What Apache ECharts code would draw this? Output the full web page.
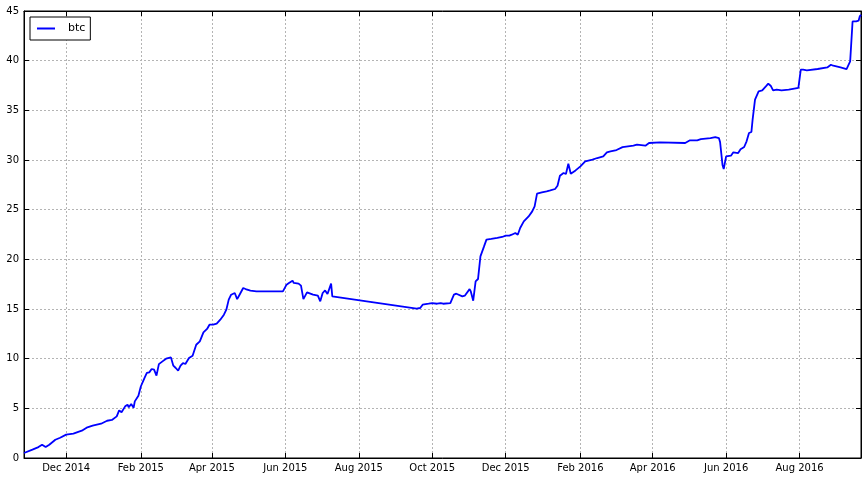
<!DOCTYPE html>
<html><head><meta charset="utf-8">
<script src="https://cdn.jsdelivr.net/npm/echarts@6/dist/echarts.min.js"></script>
<style>html,body{margin:0;padding:0;background:#fff}#c{width:868px;height:479px}</style>
</head><body><div id="c"></div>
<script>
const seriesName = 'btc';
const dates = [
'2014-10-27','2014-11-03','2014-11-08','2014-11-11','2014-11-14','2014-11-17','2014-11-22','2014-11-26',
'2014-12-01','2014-12-07','2014-12-14','2014-12-18','2014-12-23','2014-12-30','2015-01-04','2015-01-08',
'2015-01-12','2015-01-14','2015-01-16','2015-01-19','2015-01-21','2015-01-22','2015-01-24','2015-01-26',
'2015-01-27','2015-01-30','2015-02-01','2015-02-02','2015-02-04','2015-02-06','2015-02-08','2015-02-10',
'2015-02-12','2015-02-14','2015-02-16','2015-02-19','2015-02-22','2015-02-26','2015-02-28','2015-03-02',
'2015-03-04','2015-03-06','2015-03-08','2015-03-10','2015-03-13','2015-03-16','2015-03-19','2015-03-22',
'2015-03-25','2015-03-28','2015-03-30','2015-04-02','2015-04-05','2015-04-08','2015-04-11','2015-04-13',
'2015-04-15','2015-04-17','2015-04-20','2015-04-22','2015-04-24','2015-04-27','2015-04-29','2015-05-03',
'2015-05-08','2015-05-30','2015-06-02','2015-06-04','2015-06-07','2015-06-08','2015-06-12','2015-06-14',
'2015-06-16','2015-06-19','2015-06-24','2015-06-28','2015-06-30','2015-07-02','2015-07-04','2015-07-06',
'2015-07-09','2015-07-10','2015-09-18','2015-09-21','2015-09-23','2015-09-28','2015-10-01','2015-10-05',
'2015-10-08','2015-10-10','2015-10-16','2015-10-19','2015-10-21','2015-10-26','2015-10-28','2015-11-01',
'2015-11-02','2015-11-04','2015-11-06','2015-11-08','2015-11-10','2015-11-13','2015-11-15','2015-11-19',
'2015-11-24','2015-11-28','2015-12-01','2015-12-04','2015-12-06','2015-12-09','2015-12-11','2015-12-13',
'2015-12-16','2015-12-20','2015-12-23','2015-12-25','2015-12-27','2015-12-31','2016-01-04','2016-01-07',
'2016-01-11','2016-01-13','2016-01-15','2016-01-18','2016-01-20','2016-01-22','2016-01-24','2016-01-28',
'2016-02-01','2016-02-05','2016-02-11','2016-02-15','2016-02-20','2016-02-23','2016-02-26','2016-03-02',
'2016-03-07','2016-03-16','2016-03-19','2016-03-26','2016-03-29','2016-04-07','2016-04-28','2016-05-02',
'2016-05-08','2016-05-11','2016-05-19','2016-05-23','2016-05-26','2016-05-27','2016-05-29','2016-05-30',
'2016-06-01','2016-06-05','2016-06-07','2016-06-11','2016-06-13','2016-06-16','2016-06-18','2016-06-20',
'2016-06-22','2016-06-23','2016-06-25','2016-06-28','2016-07-01','2016-07-04','2016-07-06','2016-07-08',
'2016-07-10','2016-07-13','2016-07-17','2016-07-23','2016-07-31','2016-08-02','2016-08-04','2016-08-07',
'2016-08-16','2016-08-24','2016-08-27','2016-08-29','2016-09-04','2016-09-09','2016-09-12','2016-09-14',
'2016-09-17','2016-09-19','2016-09-20','2016-09-21'
];
const values = [
0.5,0.84,1.1,1.34,1.1,1.34,1.84,2.04,
2.35,2.45,2.75,3.05,3.25,3.45,3.75,3.83,
4.19,4.8,4.6,5.2,5.37,5.1,5.44,5.06,
5.7,6.27,7.2,7.28,8.05,8.56,8.62,8.96,
8.89,8.29,9.45,9.73,10.0,10.13,9.29,9.06,
8.79,9.29,9.56,9.46,10.07,10.3,11.4,11.74,
12.65,12.99,13.42,13.42,13.52,13.92,14.43,14.93,
15.94,16.44,16.61,16.0,16.44,17.11,17.01,16.84,
16.77,16.77,17.45,17.62,17.85,17.62,17.55,17.35,
16.0,16.67,16.44,16.34,15.77,16.61,16.87,16.51,
17.55,16.27,15.03,15.1,15.43,15.53,15.6,15.53,
15.6,15.53,15.6,16.44,16.54,16.27,16.34,17.0,
16.77,15.84,17.78,18.02,20.3,21.3,21.98,22.05,
22.15,22.25,22.38,22.38,22.48,22.65,22.48,23.15,
23.82,24.32,24.83,25.33,26.61,26.74,26.84,26.94,
27.08,27.41,28.42,28.69,28.59,29.63,28.62,28.95,
29.36,29.86,30.03,30.2,30.36,30.77,30.87,31.0,
31.3,31.44,31.54,31.44,31.71,31.77,31.71,31.98,
31.98,32.1,32.21,32.31,32.21,31.8,29.5,29.09,
30.36,30.43,30.77,30.7,31.08,31.31,31.88,32.72,
32.82,34.06,36.07,36.91,37.01,37.41,37.68,37.48,
37.01,37.08,37.01,37.08,37.25,39.09,39.09,39.02,
39.16,39.32,39.59,39.49,39.32,39.16,39.93,43.95,
43.95,44.02,44.46,44.63
];
const xTickDates = ['2014-12-01','2015-02-01','2015-04-01','2015-06-01','2015-08-01','2015-10-01','2015-12-01','2016-02-01','2016-04-01','2016-06-01','2016-08-01'];
const xTickLabels = ['Dec 2014','Feb 2015','Apr 2015','Jun 2015','Aug 2015','Oct 2015','Dec 2015','Feb 2016','Apr 2016','Jun 2016','Aug 2016'];
const yMin = 0, yMax = 45, yStep = 5;

function ts(s){const p=s.split('-').map(Number);return Date.UTC(p[0],p[1]-1,p[2]);}
const tickTs = xTickDates.map(ts);
const xMin = ts(dates[0]), xMax = ts(dates[dates.length-1]);
const FONT = 'DejaVu Sans';
const LINE_COLOR = '#0000ff';
const gridLine = {show:true, lineStyle:{color:'#b4b4b4', width:1, type:[2,2]}};

const chart = echarts.init(document.getElementById('c'), null, {renderer:'canvas'});
chart.setOption({
  backgroundColor:'#fff',
  animation:false,
  grid:{left:24, right:7, top:11, bottom:21, show:true, borderColor:'#000', borderWidth:1, backgroundColor:'#fff'},
  legend:{
    left:30, top:17, orient:'vertical',
    data:[{name:seriesName, icon:'rect', itemStyle:{color:LINE_COLOR}}],
    backgroundColor:'#fff', borderColor:'#000', borderWidth:1, borderRadius:0,
    padding:[4,5,4,7], itemWidth:18, itemHeight:2,
    textStyle:{fontFamily:FONT, fontSize:11, color:'#000', padding:[0,0,0,8], lineHeight:15}
  },
  xAxis:[{
    type:'value', min:xMin, max:xMax, position:'bottom',
    axisLine:{show:true, onZero:false, lineStyle:{color:'#000'}},
    axisTick:{show:true, inside:true, length:5, customValues:tickTs, lineStyle:{color:'#000'}},
    axisLabel:{show:true, customValues:tickTs, margin:5, color:'#000', fontFamily:FONT, fontSize:10,
      formatter:function(v){const i=tickTs.indexOf(v);return i>=0?xTickLabels[i]:'';}},
    splitLine:gridLine
  },{
    type:'value', min:xMin, max:xMax, position:'top',
    axisLine:{show:true, onZero:false, lineStyle:{color:'#000'}},
    axisTick:{show:true, inside:true, length:5, customValues:tickTs, lineStyle:{color:'#000'}},
    axisLabel:{show:false, customValues:tickTs},
    splitLine:{show:false}
  }],
  yAxis:[{
    type:'value', min:yMin, max:yMax, interval:yStep, position:'left',
    axisLine:{show:true, lineStyle:{color:'#000'}},
    axisTick:{show:true, inside:true, length:5, lineStyle:{color:'#000'}},
    axisLabel:{show:true, margin:5, color:'#000', fontFamily:FONT, fontSize:10},
    splitLine:gridLine
  },{
    type:'value', min:yMin, max:yMax, interval:yStep, position:'right',
    axisLine:{show:true, lineStyle:{color:'#000'}},
    axisTick:{show:true, inside:true, length:5, lineStyle:{color:'#000'}},
    axisLabel:{show:false},
    splitLine:{show:false}
  }],
  series:[{
    name:seriesName, type:'line', xAxisIndex:0, yAxisIndex:0,
    data:dates.map((d,i)=>[ts(d), values[i]]),
    showSymbol:false, symbol:'none', smooth:false,
    lineStyle:{color:LINE_COLOR, width:1.8}, itemStyle:{color:LINE_COLOR}
  }]
});
</script></body></html>
